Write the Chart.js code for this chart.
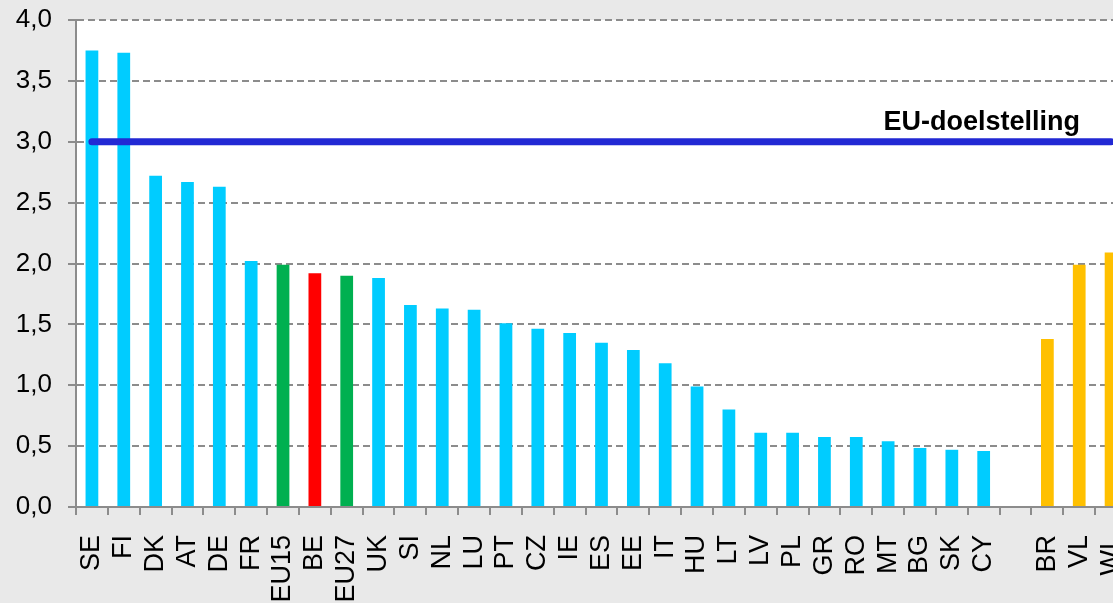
<!DOCTYPE html>
<html>
<head>
<meta charset="utf-8">
<script src="https://cdn.jsdelivr.net/npm/chart.js@4"></script>
<style>
  html, body { margin: 0; padding: 0; background: #e9e9e9; overflow: hidden; }
  canvas { display: block; }
</style>
</head>
<body>
<canvas id="rdChart" width="1127" height="603"></canvas>
<script>
// categories (empty one is the gap between the countries and the regions)
const countries = ['SE', 'FI', 'DK', 'AT', 'DE', 'FR', 'EU15', 'BE', 'EU27', 'UK', 'SI', 'NL', 'LU', 'PT', 'CZ', 'IE', 'ES', 'EE', 'IT', 'HU', 'LT', 'LV', 'PL', 'GR', 'RO', 'MT', 'BG', 'SK', 'CY', '', 'BR', 'VL', 'WL'];
// R&D intensity values (% bbp)
const rdValues = [3.75, 3.73, 2.72, 2.67, 2.63, 2.02, 1.99, 1.92, 1.90, 1.88, 1.66, 1.63, 1.62, 1.51, 1.465, 1.43, 1.35, 1.29, 1.18, 0.99, 0.80, 0.61, 0.61, 0.575, 0.575, 0.54, 0.485, 0.47, 0.46, null, 1.38, 1.99, 2.09];
const euTarget = 3.0; // EU-doelstelling
const targetLabel = 'EU-doelstelling';
const yTicks = [0, 0.5, 1, 1.5, 2, 2.5, 3, 3.5, 4];

const euAverages = ['EU15', 'EU27'];
const belgium = 'BE';
const regions = ['BR', 'VL', 'WL'];

const barColors = countries.map(c => {
    if (euAverages.includes(c)) return '#00b050';
    if (c === belgium) return '#ff0000';
    if (regions.includes(c)) return '#ffc000';
    return '#00ccff';
});

const gridGrey = '#8c8c8c';
const font = 'Arial, "Liberation Sans", sans-serif';

const ctx = document.getElementById('rdChart').getContext('2d');
const rdChart = new Chart(ctx, {
    type: 'bar',
    data: {
        labels: countries,
        datasets: [
            {
                type: 'line',
                label: targetLabel,
                data: countries.map(() => euTarget),
                borderColor: '#2229d4',
                borderWidth: 7,
                borderCapStyle: 'round',
                pointRadius: 0,
                fill: false,
                order: 0
            },
            {
                label: 'R&D',
                data: rdValues,
                backgroundColor: barColors,
                barPercentage: 0.4,
                categoryPercentage: 1,
                order: 1
            }
        ]
    },
    options: {
        responsive: false,
        animation: false,
        events: [],
        layout: {
            padding: { top: 20, right: 0, bottom: 0, left: 0 }
        },
        scales: {
            x: {
                offset: true,
                grid: {
                    drawOnChartArea: false,
                    drawTicks: true,
                    tickLength: 8,
                    color: gridGrey,
                    lineWidth: 2
                },
                border: { color: gridGrey, width: 2 },
                ticks: {
                    autoSkip: false,
                    minRotation: 90,
                    maxRotation: 90,
                    padding: 20,
                    color: '#000',
                    font: { family: font, size: 27 }
                },
                afterFit(scale) {
                    scale.height = 96;
                    scale.paddingLeft = 0;
                    scale.paddingRight = 0;
                }
            },
            y: {
                min: 0,
                max: 4,
                afterBuildTicks(scale) {
                    scale.ticks = yTicks.map(v => ({ value: v }));
                },
                grid: {
                    color: gridGrey,
                    lineWidth: 2,
                    tickLength: 8,
                    tickBorderDash: []
                },
                border: { color: gridGrey, width: 2, dash: [7, 4] },
                ticks: {
                    padding: 16,
                    color: '#000',
                    font: { family: font, size: 26 },
                    callback: v => v.toFixed(1).replace('.', ',')
                },
                afterFit(scale) {
                    scale.width = 76;
                    scale.paddingTop = 0;
                    scale.paddingBottom = 0;
                }
            }
        },
        plugins: {
            legend: { display: false },
            tooltip: { enabled: false }
        }
    },
    plugins: [
        {
            id: 'plotBackground',
            beforeDraw(chart) {
                const { ctx, chartArea } = chart;
                ctx.save();
                ctx.fillStyle = '#ffffff';
                ctx.fillRect(chartArea.left, chartArea.top, chartArea.right - chartArea.left, chartArea.bottom - chartArea.top);
                ctx.restore();
            }
        },
        {
            id: 'targetLabel',
            afterDatasetsDraw(chart) {
                const { ctx, chartArea, scales } = chart;
                const y = scales.y.getPixelForValue(euTarget) - 12;
                ctx.save();
                ctx.font = 'bold 27px ' + font;
                ctx.fillStyle = '#000';
                ctx.textAlign = 'right';
                ctx.textBaseline = 'alphabetic';
                ctx.fillText(targetLabel, chartArea.right - 47, y);
                ctx.restore();
            }
        }
    ]
});
</script>
</body>
</html>
